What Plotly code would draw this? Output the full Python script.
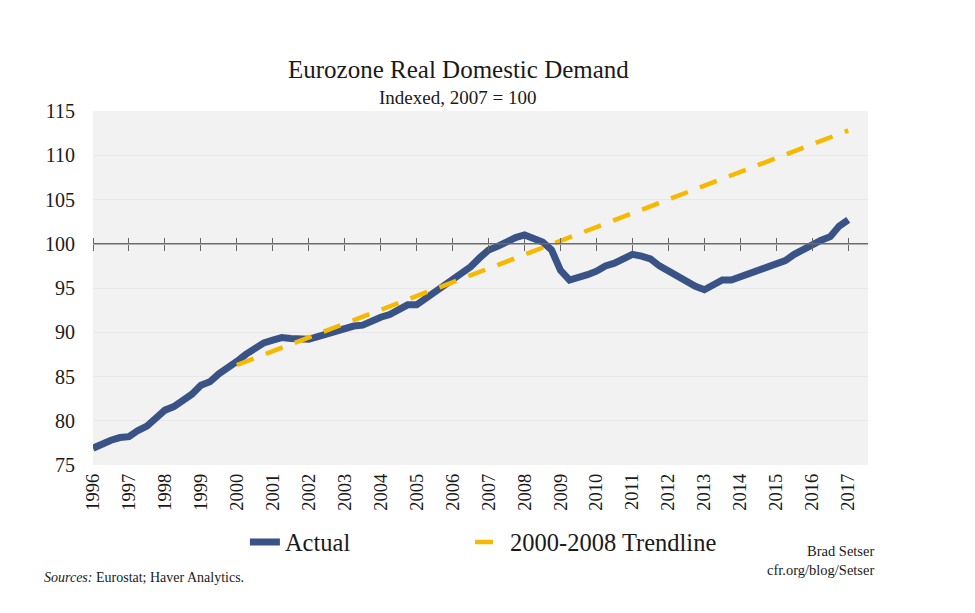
import plotly.graph_objects as go

# ---- data ----
quarters = [1996 + i * 0.25 for i in range(85)]  # 1996Q1 .. 2017Q1
actual = [
    76.9, 77.4, 77.8, 78.1,   # 1996
    78.2, 78.9, 79.4, 80.3,   # 1997
    81.2, 81.6, 82.3, 83.0,   # 1998
    84.0, 84.4, 85.3, 85.9,   # 1999
    86.7, 87.5, 88.2, 88.8,   # 2000
    89.1, 89.4, 89.3, 89.2,   # 2001
    89.2, 89.5, 89.8, 90.1,   # 2002
    90.6, 90.7, 90.8, 91.3,   # 2003
    91.7, 92.0, 92.5, 93.1,   # 2004
    93.1, 93.8, 94.5, 95.2,   # 2005
    96.0, 96.8, 97.4, 98.4,   # 2006
    99.3, 99.7, 100.3, 100.7, # 2007
    101.0, 100.6, 100.2, 99.3,# 2008
    97.0, 95.9, 96.1, 96.5,   # 2009
    96.9, 97.5, 97.8, 98.2,   # 2010
    98.8, 98.6, 98.3, 97.5,   # 2011
    96.9, 96.3, 95.7, 95.2,   # 2012
    94.8, 95.3, 95.9, 95.9,   # 2013
    96.3, 96.6, 97.0, 97.3,   # 2014
    97.8, 98.1, 98.8, 99.4,   # 2015
    100.0, 100.4, 100.8, 102.0,  # 2016
    102.7,                    # 2017Q1
]
trend_x = [2000.0, 2017.0]
trend_y = [86.3, 112.8]

year_ticks = list(range(1996, 2018))
year_labels = [str(y) for y in year_ticks]
y_ticks = [75, 80, 85, 90, 95, 100, 105, 110, 115]
ref_level = 100

FONT = "Liberation Serif"
BLUE = "#3a5387"
GOLD = "#f7b900"
TXT = "#1a1a1a"

fig = go.Figure()
fig.add_trace(go.Scatter(
    x=quarters, y=actual, mode="lines", name="Actual",
    line=dict(color=BLUE, width=7), legend="legend",
))
fig.add_trace(go.Scatter(
    x=trend_x, y=trend_y, mode="lines", name="2000-2008 Trendline",
    line=dict(color=GOLD, width=4.5, dash="18px,13px"), legend="legend2",
))
# invisible helper traces to carry the crossing tick axes
for ax in ("x2", "x3"):
    fig.add_trace(go.Scatter(
        x=[year_ticks[0], year_ticks[-1]], y=[None, None], xaxis=ax, yaxis="y",
        mode="lines", showlegend=False, hoverinfo="skip",
    ))

x_range = [1996, 2017.55]
pos100 = (ref_level - 75) / (115 - 75)

legend_common = dict(
    orientation="h", xanchor="left", y=-0.2175, yanchor="middle",
    font=dict(family=FONT, size=24.5, color=TXT),
    bgcolor="rgba(0,0,0,0)",
)

fig.update_layout(
    width=975, height=613,
    margin=dict(l=85, r=115, t=103, b=156),
    paper_bgcolor="white",
    plot_bgcolor="#f2f2f2",
    font=dict(family=FONT, color=TXT),
    xaxis=dict(
        range=x_range, tickmode="array", tickvals=year_ticks, ticktext=year_labels,
        tickangle=-90, showgrid=False, zeroline=False, showline=False,
        ticks="", ticklabelstandoff=4,
        tickfont=dict(family=FONT, size=18.5, color=TXT),
    ),
    xaxis2=dict(
        range=x_range, overlaying="x", anchor="free", position=pos100, side="bottom",
        tickmode="array", tickvals=year_ticks, ticks="outside", ticklen=6,
        tickwidth=1.3, tickcolor="#666666", showticklabels=False,
        showgrid=False, zeroline=False, showline=False,
    ),
    xaxis3=dict(
        range=x_range, overlaying="x", anchor="free", position=pos100, side="top",
        tickmode="array", tickvals=year_ticks, ticks="outside", ticklen=6,
        tickwidth=1.3, tickcolor="#666666", showticklabels=False,
        showgrid=False, zeroline=False, showline=False,
    ),
    yaxis=dict(
        range=[75, 115], tickmode="array", tickvals=y_ticks,
        showgrid=True, gridcolor="#e7e7e7", gridwidth=1, zeroline=False,
        showline=False, ticks="", ticklabelstandoff=17,
        tickfont=dict(family=FONT, size=20, color=TXT),
    ),
    legend=dict(x=0.196, **legend_common),
    legend2=dict(x=0.4865, **legend_common),
    showlegend=True,
)

fig.add_shape(type="line", xref="paper", yref="y", x0=0, x1=1,
              y0=ref_level, y1=ref_level, line=dict(color="#6b6b6b", width=1.5),
              layer="above")

# title and subtitle
fig.add_annotation(xref="paper", yref="paper", x=0.471, y=1.116,
                   xanchor="center", yanchor="middle", showarrow=False,
                   text="Eurozone Real Domestic Demand",
                   font=dict(family=FONT, size=25, color=TXT))
fig.add_annotation(xref="paper", yref="paper", x=0.47, y=1.037,
                   xanchor="center", yanchor="middle", showarrow=False,
                   text="Indexed, 2007 = 100",
                   font=dict(family=FONT, size=19, color=TXT))

fig.add_annotation(xref="paper", yref="paper", x=-0.066, y=-0.318,
                   xanchor="left", yanchor="middle", showarrow=False,
                   text="<i>Sources:</i> Eurostat; Haver Analytics.",
                   font=dict(family=FONT, size=14, color=TXT))
fig.add_annotation(xref="paper", yref="paper", x=1.01, y=-0.27,
                   xanchor="right", yanchor="middle", showarrow=False, align="right",
                   text="Brad Setser<br>cfr.org/blog/Setser",
                   font=dict(family=FONT, size=14.5, color=TXT))

fig.write_html("out.html")
